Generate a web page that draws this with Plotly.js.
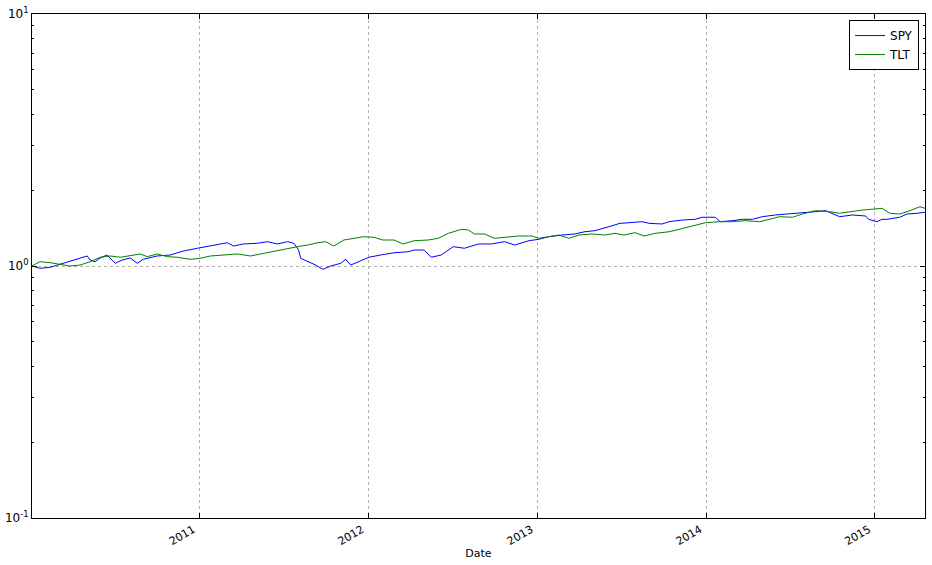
<!DOCTYPE html>
<html>
<head>
<meta charset="utf-8">
<script src="https://cdn.plot.ly/plotly-3.0.1.min.js"></script>
<style>html,body{margin:0;padding:0;background:#fff;}#chart{width:932px;height:565px;}</style>
</head>
<body>
<div id="chart"></div>
<script>
// Dates as decimal years, values as growth of 1
const spyDates = [2010.008,2010.055,2010.115,2010.192,2010.275,2010.335,2010.353,2010.382,2010.412,2010.453,2010.501,2010.542,2010.590,2010.632,2010.667,2010.750,2010.828,2010.905,2010.988,2011.065,2011.166,2011.202,2011.261,2011.345,2011.404,2011.463,2011.523,2011.559,2011.588,2011.600,2011.642,2011.689,2011.731,2011.778,2011.838,2011.867,2011.897,2011.957,2012.004,2012.075,2012.153,2012.236,2012.272,2012.331,2012.373,2012.432,2012.503,2012.569,2012.652,2012.729,2012.806,2012.866,2012.949,2013.008,2013.068,2013.145,2013.222,2013.282,2013.341,2013.424,2013.490,2013.543,2013.620,2013.662,2013.739,2013.781,2013.858,2013.935,2013.977,2014.054,2014.084,2014.155,2014.215,2014.274,2014.333,2014.411,2014.494,2014.571,2014.648,2014.708,2014.749,2014.791,2014.868,2014.945,2014.963,2015.012,2015.042,2015.071,2015.148,2015.190,2015.250,2015.297];
const spyValues = [1.000,0.979,0.988,1.025,1.063,1.096,1.056,1.040,1.076,1.106,1.025,1.056,1.076,1.025,1.063,1.096,1.106,1.147,1.176,1.200,1.237,1.200,1.223,1.231,1.249,1.223,1.249,1.231,1.157,1.073,1.040,1.009,0.970,1.000,1.025,1.063,1.009,1.050,1.083,1.106,1.129,1.139,1.157,1.157,1.083,1.106,1.193,1.176,1.223,1.223,1.249,1.211,1.260,1.276,1.307,1.327,1.340,1.368,1.381,1.432,1.477,1.485,1.499,1.477,1.468,1.499,1.522,1.532,1.561,1.561,1.499,1.513,1.532,1.532,1.569,1.594,1.608,1.628,1.643,1.658,1.619,1.569,1.594,1.579,1.532,1.499,1.532,1.532,1.561,1.608,1.619,1.634];

const tltDates = [2010.008,2010.055,2010.115,2010.174,2010.233,2010.293,2010.353,2010.412,2010.471,2010.531,2010.590,2010.649,2010.691,2010.750,2010.810,2010.869,2010.947,2011.006,2011.065,2011.143,2011.226,2011.303,2011.380,2011.463,2011.541,2011.600,2011.642,2011.701,2011.749,2011.796,2011.856,2011.915,2011.974,2012.034,2012.087,2012.153,2012.206,2012.272,2012.355,2012.414,2012.474,2012.551,2012.592,2012.628,2012.687,2012.747,2012.830,2012.889,2012.967,2013.008,2013.068,2013.127,2013.187,2013.246,2013.323,2013.400,2013.460,2013.513,2013.579,2013.632,2013.698,2013.781,2013.840,2013.917,2013.995,2014.078,2014.155,2014.232,2014.316,2014.375,2014.434,2014.512,2014.571,2014.648,2014.731,2014.791,2014.850,2014.928,2014.982,2015.042,2015.089,2015.148,2015.208,2015.267,2015.297];
const tltValues = [1.000,1.040,1.031,1.018,1.000,1.009,1.040,1.083,1.096,1.083,1.096,1.116,1.089,1.116,1.089,1.083,1.063,1.073,1.096,1.106,1.116,1.096,1.123,1.150,1.176,1.200,1.211,1.237,1.249,1.200,1.268,1.288,1.307,1.300,1.268,1.268,1.223,1.260,1.268,1.288,1.348,1.398,1.390,1.340,1.340,1.288,1.307,1.315,1.315,1.288,1.307,1.327,1.288,1.327,1.340,1.327,1.348,1.327,1.356,1.315,1.348,1.368,1.398,1.441,1.485,1.499,1.499,1.513,1.499,1.532,1.569,1.561,1.608,1.658,1.643,1.619,1.643,1.668,1.679,1.694,1.619,1.608,1.658,1.719,1.694];

const seriesNames = ['SPY', 'TLT'];
const yTickVals = [0.1, 1, 10];
const yTickText = ['10<sup>-1</sup>', '10<sup>0</sup>', '10<sup>1</sup>'];
const yMinorVals = [0.2,0.3,0.4,0.5,0.6,0.7,0.8,0.9,2,3,4,5,6,7,8,9];
const xRange = [2010.008, 2015.297];

function decToDate(d) {
  const y = Math.floor(d);
  const a = Date.UTC(y, 0, 1), b = Date.UTC(y + 1, 0, 1);
  return new Date(a + (d - y) * (b - a)).toISOString().slice(0, 19).replace('T', ' ');
}

const traces = [
  {x: spyDates.map(decToDate), y: spyValues, name: seriesNames[0], type: 'scatter', mode: 'lines',
   line: {color: '#0000ff', width: 1}},
  {x: tltDates.map(decToDate), y: tltValues, name: seriesNames[1], type: 'scatter', mode: 'lines',
   line: {color: '#008000', width: 1}}
];

const font = {family: 'DejaVu Sans, sans-serif', size: 11, color: '#000'};
const layout = {
  width: 932, height: 565,
  margin: {l: 32, r: 7, t: 14, b: 47},
  paper_bgcolor: '#fff', plot_bgcolor: '#fff',
  font: font,
  showlegend: true,
  legend: {x: 0.9933, y: 0.988, xanchor: 'right', yanchor: 'top', bordercolor: '#000', borderwidth: 1,
           bgcolor: '#fff', font: {family: 'DejaVu Sans, sans-serif', size: 12}},
  xaxis: {
    type: 'date', range: xRange.map(decToDate),
    tick0: '2011-01-01', dtick: 'M12', tickformat: '%Y', tickangle: -30,
    ticklabelshift: -6,
    ticks: 'inside', ticklen: 5, tickcolor: '#000',
    showline: true, linecolor: '#000', linewidth: 1, mirror: 'ticks',
    showgrid: true, gridcolor: '#b0b0b0', griddash: 'dot', gridwidth: 1,
    zeroline: false,
    title: {text: 'Date', font: {family: 'DejaVu Sans, sans-serif', size: 11}, standoff: 2},
    tickfont: {family: 'DejaVu Sans, sans-serif', size: 11}
  },
  yaxis: {
    type: 'log', range: [-1, 1],
    tickmode: 'array', tickvals: yTickVals, ticktext: yTickText,
    ticks: 'inside', ticklen: 5, tickcolor: '#000',
    minor: {tickmode: 'array', tickvals: yMinorVals, ticks: 'inside', ticklen: 2, tickcolor: '#000', showgrid: false},
    showline: true, linecolor: '#000', linewidth: 1, mirror: 'ticks',
    showgrid: true, gridcolor: '#b0b0b0', griddash: 'dot', gridwidth: 1,
    zeroline: false,
    tickfont: {family: 'DejaVu Sans, sans-serif', size: 12}
  }
};

Plotly.newPlot('chart', traces, layout, {displayModeBar: false, staticPlot: true});
</script>
</body>
</html>
